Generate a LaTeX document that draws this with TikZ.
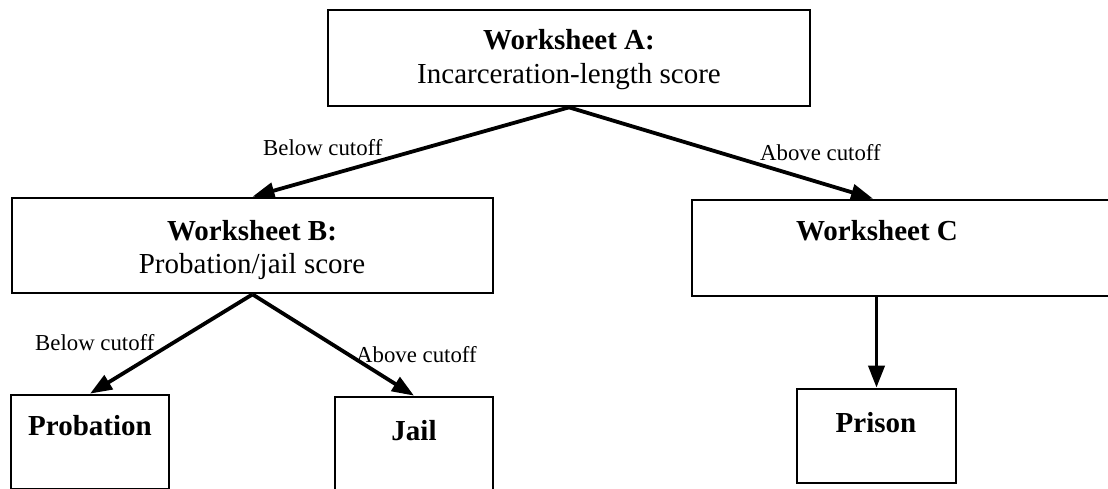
\documentclass[tikz,border=0pt]{standalone}
\usepackage{fontspec}
\setmainfont{Liberation Serif}
\usetikzlibrary{arrows.meta}
\begin{document}
\begin{tikzpicture}[x=1pt,y=-1pt,
  box/.style={draw,rectangle,line width=2.7pt,inner sep=0pt},
  boxtitle/.style={font=\fontsize{29}{33}\selectfont\bfseries,inner sep=0pt,anchor=base},
  boxtext/.style={font=\fontsize{29}{33}\selectfont,inner sep=0pt,anchor=base},
  lbl/.style={font=\fontsize{22.8}{26}\selectfont,inner sep=0pt,anchor=base west},
  conn/.style={line width=3.8pt,-{Triangle[length=22pt,width=16pt]}}]
\useasboundingbox (0,0) rectangle (1108,488);
\clip (0,0) rectangle (1108,488);
\fill[white] (0,0) rectangle (1108,488);
% boxes
\node[box,minimum width=482pt,minimum height=96pt] (A) at (569,58) {};
\node[box,minimum width=481pt,minimum height=95pt] (B) at (252.5,245.5) {};
\node[box,minimum width=428pt,minimum height=96pt] (C) at (906,248) {};
\node[box,minimum width=158pt,minimum height=94pt] (P) at (90,442) {};
\node[box,minimum width=158pt,minimum height=94pt] (J) at (414,444) {};
\node[box,minimum width=159pt,minimum height=94pt] (Pr) at (876.5,436) {};
% box texts
\node[boxtitle] (At1) at (569,49) {Worksheet A:};
\node[boxtext] (At2) at (569,83) {Incarceration-length score};
\node[boxtitle] (Bt1) at (252,240) {Worksheet B:};
\node[boxtext] (Bt2) at (252,273) {Probation/jail score};
\node[boxtitle] (Ct) at (877,240) {Worksheet C};
\node[boxtitle] (Pt) at (90,435) {Probation};
\node[boxtitle] (Jt) at (414,440) {Jail};
\node[boxtitle] (Prt) at (876,432) {Prison};
% labels
\node[lbl] (l1) at (263,155) {Below cutoff};
\node[lbl] (l2) at (760,160) {Above cutoff};
\node[lbl] (l3) at (35,350) {Below cutoff};
\node[lbl] (l4) at (356,362) {Above cutoff};
% connectors
\draw[conn] (A.south) -- (B.north);
\draw[conn] (A.south) -- ([xshift=-33pt]C.north);
\draw[conn] (B.south) -- (P.north);
\draw[conn] (B.south) -- (J.north);
\draw[conn] (Pr.north |- C.south) -- (Pr.north);
\end{tikzpicture}
\end{document}
